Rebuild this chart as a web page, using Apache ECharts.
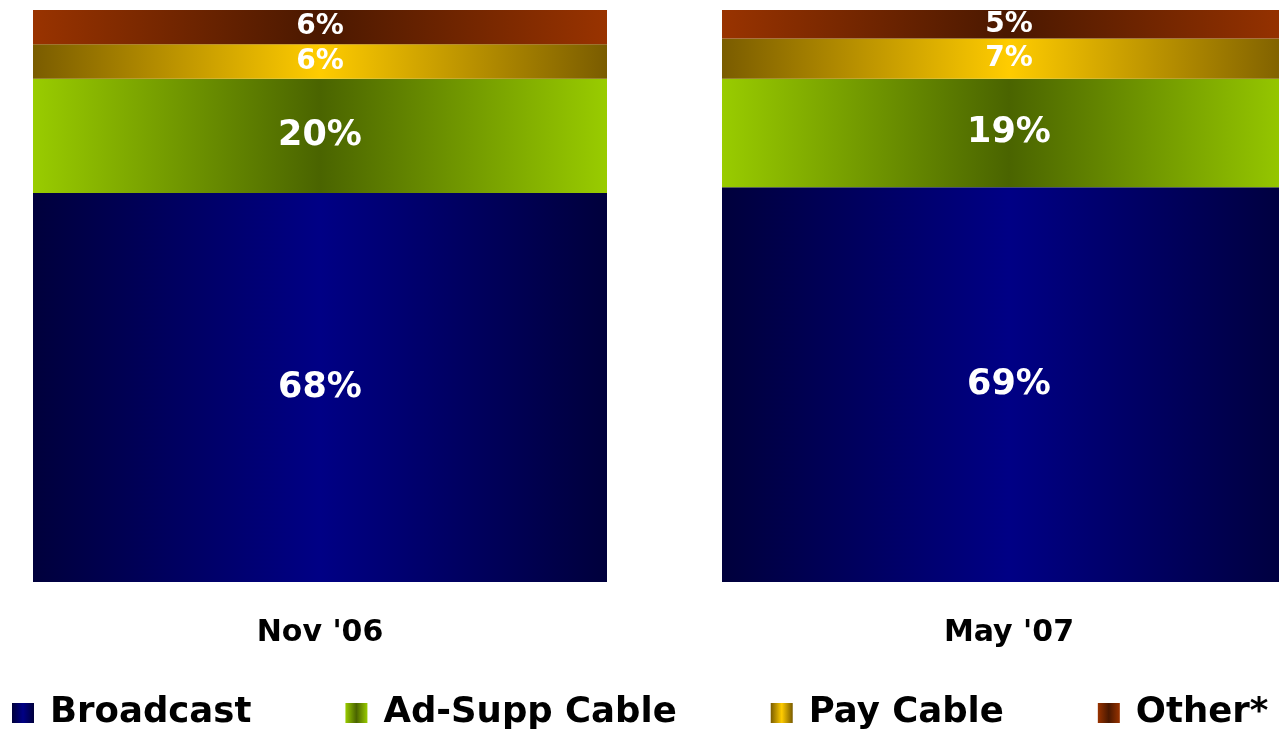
<!DOCTYPE html>
<html>
<head>
<meta charset="utf-8">
<script src="https://cdn.jsdelivr.net/npm/echarts@6/dist/echarts.min.js"></script>
<style>
  html, body { margin: 0; padding: 0; background: #fff; }
  #chart { width: 1279px; height: 731px; }
</style>
</head>
<body>
<div id="chart"></div>
<script>
const categories = ["Nov '06", "May '07"];
const broadcast = [68, 69];
const adSuppCable = [20, 19];
const payCable = [6, 7];
const other = [6, 5];

const font = 'DejaVu Sans';

// horizontal gradient, edge colour -> centre colour -> edge colour
const grad = (edge, mid) => ({
  type: 'linear', x: 0, y: 0, x2: 1, y2: 0,
  colorStops: [
    { offset: 0, color: edge },
    { offset: 0.5, color: mid },
    { offset: 1, color: edge }
  ]
});

const makeSeries = (name, data, color, size) => ({
  name: name,
  type: 'bar',
  stack: 'total',
  barWidth: 574,
  clip: false,
  data: data,
  itemStyle: { color: color },
  label: {
    show: true,
    position: 'inside',
    formatter: '{c}%',
    color: '#fff',
    fontFamily: font,
    fontWeight: 'bold',
    fontSize: size
  }
});

const myChart = echarts.init(document.getElementById('chart'));

// the two bars sit on the grid edges (boundaryGap off); the second one runs past the canvas
const option = {
  animation: false,
  grid: { left: 320, right: 270, top: 10, bottom: 149, containLabel: false },
  xAxis: {
    type: 'category',
    data: categories,
    boundaryGap: false,
    axisLine: { show: false },
    axisTick: { show: false },
    splitLine: { show: false },
    axisLabel: {
      margin: 36,
      color: '#000',
      fontFamily: font,
      fontWeight: 'bold',
      fontSize: 30
    }
  },
  yAxis: {
    type: 'value',
    min: 0,
    max: 100,
    show: false,
    splitLine: { show: false }
  },
  legend: {
    left: 7,
    top: 690,
    itemGap: 94,
    itemWidth: 22,
    itemHeight: 20,
    icon: 'rect',
    textStyle: {
      color: '#000',
      fontFamily: font,
      fontWeight: 'bold',
      fontSize: 35.5,
      padding: [0, 0, 0, 11]
    },
    data: ['Broadcast', 'Ad-Supp Cable', 'Pay Cable', 'Other*']
  },
  series: [
    makeSeries('Broadcast', broadcast, grad('#00003c', '#000085'), 35),
    makeSeries('Ad-Supp Cable', adSuppCable, grad('#99cc00', '#4a6400'), 35),
    makeSeries('Pay Cable', payCable, grad('#7a5c00', '#ffcc00'), 28),
    makeSeries('Other*', other, grad('#993300', '#4a1800'), 28)
  ]
};

option && myChart.setOption(option);
</script>
</body>
</html>
